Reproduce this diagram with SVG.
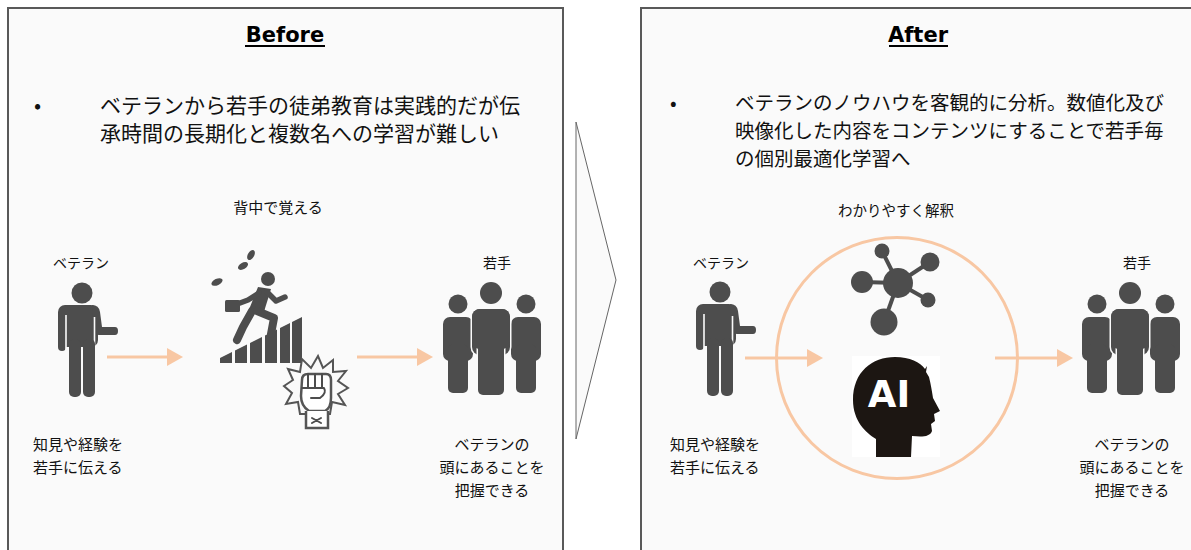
<svg xmlns="http://www.w3.org/2000/svg" width="1191" height="550" viewBox="0 0 1191 550">
  <style>
    .panel { fill: #fafafa; stroke: #595959; stroke-width: 2; }
    .title { font-family: "DejaVu Sans", "Liberation Sans", sans-serif; font-weight: bold; font-size: 21px; fill: #000; text-anchor: middle; }
    .jp { font-family: "Noto Sans CJK JP", "Noto Sans", sans-serif; fill: #111; }
    .big { font-size: 21px; }
    .mid { font-size: 19.5px; }
    .lbl { font-size: 14px; text-anchor: middle; }
    .cap { font-size: 15px; text-anchor: middle; }
    .icon { fill: #4d4d4d; }
    .halo { fill: #4d4d4d; stroke: #fafafa; stroke-width: 3; paint-order: stroke; }
    .sep { stroke: #fafafa; stroke-width: 1.6; fill: none; }
    .flow { stroke: #f8c7a3; stroke-width: 3; fill: none; }
    .line { stroke: #4d4d4d; fill: none; stroke-linecap: round; stroke-linejoin: round; }
  </style>
  <defs>
    <marker id="head" markerUnits="userSpaceOnUse" markerWidth="16" markerHeight="18" refX="4" refY="9" orient="auto">
      <path d="M0,0 L16,9 L0,18 Z" fill="#f8c7a3"/>
    </marker>
    <!-- standing person with one arm held out, head centre at 0,0 -->
    <g id="veteran-figure">
      <circle class="icon" cx="0" cy="0" r="10.5"/>
      <rect class="icon" x="-24" y="12" width="40" height="42" rx="7"/>
      <rect class="icon" x="-24" y="20" width="8" height="38" rx="4"/>
      <path class="icon" d="M10 12 Q17 12 18 19 L20 34 H33 Q36 34 36 38 Q36 42 33 42 H17 Q14 42 13 38 L11 28 Z"/>
      <line class="sep" x1="-16" y1="22" x2="-16" y2="60"/>
      <line class="sep" x1="12.5" y1="24" x2="12.5" y2="60"/>
      <rect class="icon" x="-13" y="46" width="12" height="58" rx="5"/>
      <rect class="icon" x="1" y="46" width="12" height="58" rx="5"/>
    </g>
    <!-- one person of the group: head, torso, legs -->
    <g id="side-person">
      <circle class="icon" cx="0" cy="0" r="9.5"/>
      <rect class="icon" x="-15" y="13" width="30" height="44" rx="7"/>
      <rect class="icon" x="-10" y="40" width="20" height="49" rx="5"/>
    </g>
    <!-- three people, centre head at 0,0 -->
    <g id="group-figure">
      <use href="#side-person" x="-33" y="11"/>
      <use href="#side-person" x="35" y="11"/>
      <circle class="halo" cx="0" cy="0" r="11"/>
      <rect class="halo" x="-19" y="16" width="38" height="46" rx="8"/>
      <rect class="halo" x="-13" y="44" width="26" height="58" rx="5"/>
      <rect class="icon" x="-19" y="16" width="38" height="40" rx="8"/>
    </g>
  </defs>

  <rect width="1191" height="550" fill="#ffffff"/>

  <!-- Before panel -->
  <g id="panel-before">
    <rect class="panel" x="8" y="8" width="555" height="560"/>
    <text class="title" x="285" y="42">Before</text>
    <rect x="245" y="45" width="80" height="2" fill="#000"/>
    <text class="jp big" x="34" y="113">•</text>
    <text class="jp big" x="100" y="113">ベテランから若手の徒弟教育は実践的だが伝</text>
    <text class="jp big" x="100" y="141">承時間の長期化と複数名への学習が難しい</text>
  </g>

  <!-- After panel -->
  <g id="panel-after">
    <rect class="panel" x="641" y="8" width="570" height="560"/>
    <text class="title" x="918" y="42">After</text>
    <rect x="889" y="45" width="59" height="2" fill="#000"/>
    <text class="jp mid" x="670" y="110">•</text>
    <text class="jp mid" x="735" y="110">ベテランのノウハウを客観的に分析。数値化及び</text>
    <text class="jp mid" x="735" y="138">映像化した内容をコンテンツにすることで若手毎</text>
    <text class="jp mid" x="735" y="166">の個別最適化学習へ</text>
  </g>

  <!-- chevron between panels -->
  <g id="chevron">
    <polygon points="576,122 616,280 576,439" fill="#fafafa" stroke="#666" stroke-width="1"/>
  </g>

  <!-- Before: veteran -->
  <g id="before-veteran">
    <text class="jp lbl" x="81" y="268">ベテラン</text>
    <use href="#veteran-figure" x="82" y="293"/>
    <text class="jp cap" x="33" y="450" style="text-anchor:start">知見や経験を</text>
    <text class="jp cap" x="33" y="473" style="text-anchor:start">若手に伝える</text>
  </g>

  <!-- Before: learning on the job -->
  <g id="before-onjob">
    <text class="jp cap" x="278" y="213">背中で覚える</text>
    <!-- stairs -->
    <polygon class="icon" points="220,363 220,358 232,352 232,363"/>
    <polygon class="icon" points="235,363 235,350.5 247,344.5 247,363"/>
    <polygon class="icon" points="250,363 250,343 262,337 262,363"/>
    <polygon class="icon" points="265,363 265,335.5 277,329.5 277,363"/>
    <polygon class="icon" points="280,363 280,328 290,323 290,363"/>
    <polygon class="icon" points="292,363 292,322 302,317 302,363"/>
    <!-- runner -->
    <circle class="icon" cx="268" cy="279" r="7"/>
    <path class="icon" d="M258 287 L271 289 L263 315 L248 312 Z"/>
    <polyline class="line" points="267,292 276,301 285,297" stroke-width="5.5"/>
    <polyline class="line" points="259,293 248,300 240,303" stroke-width="5.5"/>
    <rect class="icon" x="225" y="300" width="15" height="12" rx="1.5"/>
    <polyline class="line" points="252,311 243,327 237,340" stroke-width="8"/>
    <polyline class="line" points="257,311 274,318 271,334" stroke-width="8"/>
    <!-- sweat drops -->
    <ellipse class="icon" cx="217" cy="282" rx="6" ry="3.2" transform="rotate(-25 217 282)"/>
    <ellipse class="icon" cx="243" cy="266" rx="5.5" ry="3.2" transform="rotate(-30 243 266)"/>
    <ellipse class="icon" cx="251" cy="255" rx="5.5" ry="3.2" transform="rotate(-60 251 255)"/>
    <!-- burst and fist -->
    <polygon points="284,386 293,380 288,369 300,372 302,359 311,368 318,356 323,368 333,360 333,372 346,371 338,381 348,388 338,394 345,405 332,402 330,414 300,414 298,402 286,404 292,393"
             fill="#fafafa" stroke="#555" stroke-width="2" stroke-linejoin="miter"/>
    <path d="M302 380 Q302 374 308 374 L326 374 Q331 374 331 380 L331 398 Q331 408 325 411 L309 411 Q301 406 301 396 Z" fill="#fff" stroke="#555" stroke-width="2.5"/>
    <path d="M308 374 L308 388 M315 374 L315 388 M322 374 L322 388 M302 388 L324 388 Q327 393 320 398 L311 398" class="line" stroke-width="2"/>
    <path d="M306 411 L306 428 L328 428 L328 411" fill="#fff" stroke="#555" stroke-width="2.5"/>
    <path d="M312 418 L321 423 M321 418 L312 423" class="line" stroke-width="2"/>
  </g>

  <!-- Before: juniors -->
  <g id="before-juniors">
    <text class="jp lbl" x="497" y="268">若手</text>
    <use href="#group-figure" x="491" y="293"/>
    <text class="jp cap" x="492" y="450">ベテランの</text>
    <text class="jp cap" x="492" y="473">頭にあることを</text>
    <text class="jp cap" x="492" y="496">把握できる</text>
  </g>

  <!-- After: veteran -->
  <g id="after-veteran">
    <text class="jp lbl" x="721" y="268">ベテラン</text>
    <use href="#veteran-figure" x="720" y="292"/>
    <text class="jp cap" x="670" y="450" style="text-anchor:start">知見や経験を</text>
    <text class="jp cap" x="670" y="473" style="text-anchor:start">若手に伝える</text>
  </g>

  <!-- After: analysis -->
  <g id="after-analysis">
    <text class="jp cap" x="896" y="216" style="font-size:14.5px">わかりやすく解釈</text>
    <circle cx="897" cy="358" r="120.5" fill="none" stroke="#f8c7a3" stroke-width="3"/>
    <!-- network -->
    <g stroke="#4d4d4d" stroke-width="4">
      <line x1="898" y1="283" x2="882" y2="251"/>
      <line x1="898" y1="283" x2="930" y2="262"/>
      <line x1="898" y1="283" x2="862" y2="282"/>
      <line x1="898" y1="283" x2="928" y2="300"/>
      <line x1="898" y1="283" x2="884" y2="322"/>
    </g>
    <circle class="icon" cx="898" cy="283" r="15"/>
    <circle class="icon" cx="882" cy="251" r="7.5"/>
    <circle class="icon" cx="930" cy="262" r="9.5"/>
    <circle class="icon" cx="862" cy="282" r="11"/>
    <circle class="icon" cx="928" cy="300" r="7.5"/>
    <circle class="icon" cx="884" cy="322" r="13.5"/>
    <!-- AI head -->
    <rect x="852" y="356" width="88" height="101" fill="#ffffff"/>
    <path d="M876 457 L876 439 C866 433 853 421 853 400 C853 372 872 357 895 357 C910 357 920 362 925 369 L927 366 L926 372 L929 377 C931 385 932 392 933 398 L940 411 L934 414 L935 421 L931 424 L932 431 C930 437 922 437 912 436 L911 457 Z" fill="#1c1612"/>
    <text x="889" y="407" font-family="DejaVu Sans, Liberation Sans, sans-serif" font-weight="bold" font-size="37" fill="#ffffff" text-anchor="middle">AI</text>
  </g>

  <!-- After: juniors -->
  <g id="after-juniors">
    <text class="jp lbl" x="1137" y="268">若手</text>
    <use href="#group-figure" x="1130" y="293"/>
    <text class="jp cap" x="1132" y="450">ベテランの</text>
    <text class="jp cap" x="1132" y="473">頭にあることを</text>
    <text class="jp cap" x="1132" y="496">把握できる</text>
  </g>

  <!-- connectors -->
  <g id="connectors">
    <line class="flow" x1="107" y1="357" x2="171" y2="357" marker-end="url(#head)"/>
    <line class="flow" x1="357" y1="357" x2="421" y2="357" marker-end="url(#head)"/>
    <line class="flow" x1="745" y1="358" x2="811" y2="358" marker-end="url(#head)"/>
    <line class="flow" x1="995" y1="358" x2="1061" y2="358" marker-end="url(#head)"/>
  </g>
</svg>
